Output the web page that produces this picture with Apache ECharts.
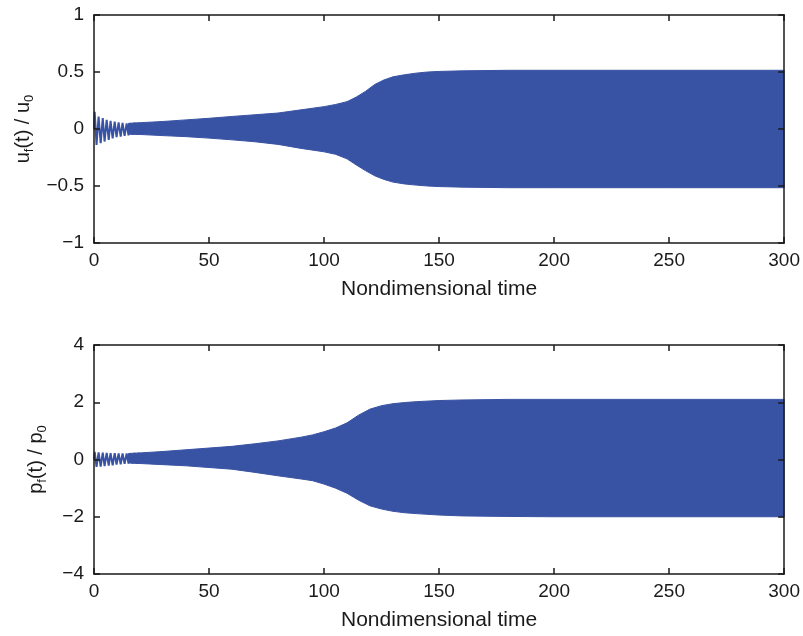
<!DOCTYPE html>
<html><head><meta charset="utf-8">
<script src="https://cdn.jsdelivr.net/npm/echarts@6/dist/echarts.min.js"></script>
<style>html,body{margin:0;padding:0;background:#fff}#c{width:803px;height:636px}</style>
</head><body><div id="c"></div>
<script>
// ---- data ----
const xTicks = [0, 50, 100, 150, 200, 250, 300];
const uTicks = [-1, -0.5, 0, 0.5, 1];
const pTicks = [-4, -2, 0, 2, 4];

// early, individually visible oscillation peaks (top panel)
const uEarlyT = [0, 0.3, 1.1, 2.0, 2.9, 3.8, 4.6, 5.5, 6.4, 7.2, 8.1, 9.0, 9.8, 10.7, 11.6, 12.4, 13.3, 14.2, 15.0, 15.9, 16.8, 17.6, 18.5, 19.4];
const uEarlyV = [0, 0.15, -0.14, 0.11, -0.125, 0.096, -0.11, 0.08, -0.095, 0.072, -0.082, 0.064, -0.072, 0.058, -0.066, 0.054, -0.06, 0.05, -0.055, 0.05, -0.05, 0.055, -0.05, 0.055];
// envelope of the dense oscillation (top panel)
const uEnvT   = [15, 20, 30, 40, 50, 60, 70, 80, 90, 100, 105, 110, 114, 118, 122, 126, 130, 135, 140, 145, 150, 160, 180, 200, 250, 300];
const uUpper  = [0.05, 0.055, 0.066, 0.08, 0.094, 0.11, 0.125, 0.14, 0.168, 0.196, 0.215, 0.24, 0.28, 0.33, 0.39, 0.43, 0.458, 0.476, 0.49, 0.5, 0.505, 0.51, 0.515, 0.515, 0.515, 0.515];
const uLower  = [-0.045, -0.048, -0.058, -0.067, -0.08, -0.095, -0.112, -0.135, -0.17, -0.2, -0.222, -0.262, -0.315, -0.365, -0.41, -0.442, -0.466, -0.482, -0.492, -0.5, -0.505, -0.51, -0.515, -0.515, -0.515, -0.515];

// early oscillation peaks (bottom panel)
const pEarlyT = [0, 0.3, 1.1, 2.0, 2.9, 3.8, 4.6, 5.5, 6.4, 7.2, 8.1, 9.0, 9.8, 10.7, 11.6, 12.4, 13.3, 14.2, 15.0, 15.9, 16.8, 17.6, 18.5, 19.4];
const pEarlyV = [0, 0.27, -0.26, 0.25, -0.25, 0.24, -0.23, 0.23, -0.21, 0.22, -0.2, 0.22, -0.18, 0.21, -0.17, 0.21, -0.15, 0.21, -0.14, 0.22, -0.14, 0.23, -0.15, 0.24];
// envelope (bottom panel)
const pEnvT   = [15, 20, 30, 40, 50, 60, 70, 80, 90, 95, 100, 105, 110, 115, 120, 125, 130, 135, 140, 150, 160, 180, 200, 250, 300];
const pUpper  = [0.21, 0.23, 0.28, 0.34, 0.4, 0.46, 0.55, 0.65, 0.78, 0.86, 0.97, 1.1, 1.28, 1.55, 1.76, 1.88, 1.95, 1.99, 2.02, 2.06, 2.08, 2.1, 2.1, 2.1, 2.1];
const pLower  = [-0.12, -0.14, -0.18, -0.22, -0.28, -0.34, -0.45, -0.57, -0.68, -0.74, -0.86, -1.0, -1.18, -1.42, -1.62, -1.73, -1.81, -1.86, -1.89, -1.94, -1.97, -1.99, -2.0, -2.0, -2.0];

// ---- chart ----
const BLUE = '#3953a4';
const INK = '#1a1a1a';
const FONT = 'Liberation Sans, Arial, sans-serif';
const pairs = (t, v) => t.map((x, i) => [x, v[i]]);

function xAx(gi, pos) {
  const main = pos === 'bottom';
  return {
    gridIndex: gi, type: 'value', position: pos, z: 10,
    min: xTicks[0], max: xTicks[xTicks.length - 1], interval: 50,
    name: main ? 'Nondimensional time' : '', nameLocation: 'middle', nameGap: 36,
    nameTextStyle: { fontSize: 21, color: INK, fontFamily: FONT },
    axisLine: { show: true, onZero: false, lineStyle: { color: INK, width: 1.5 } },
    axisTick: { show: true, inside: true, length: 6, lineStyle: { color: INK, width: 1.5 } },
    axisLabel: { show: main, fontSize: 19, color: INK, fontFamily: FONT, margin: 8 },
    splitLine: { show: false }
  };
}
function yAx(gi, pos, ticks, name) {
  const main = pos === 'left';
  return {
    gridIndex: gi, type: 'value', position: pos, z: 10,
    min: ticks[0], max: ticks[ticks.length - 1], interval: ticks[1] - ticks[0],
    name: main ? name : '', nameLocation: 'middle', nameGap: 45, nameRotate: 90,
    nameTextStyle: { fontSize: 20, color: INK, fontFamily: FONT,
      rich: { s: { fontSize: 13, color: INK, fontFamily: FONT, verticalAlign: 'bottom', padding: [12, 0, 0, 0] } } },
    axisLine: { show: true, onZero: false, lineStyle: { color: INK, width: 1.5 } },
    axisTick: { show: true, inside: true, length: 6, lineStyle: { color: INK, width: 1.5 } },
    axisLabel: { show: main, fontSize: 19, color: INK, fontFamily: FONT, margin: 10,
      formatter: v => (v < 0 ? '\u2212' + Math.abs(v) : String(v)) },
    splitLine: { show: false }
  };
}
// band between lower and upper envelope: one polygon, positioned via the axis scales (api.coord)
function band(xi, t, lo, hi) {
  return {
    type: 'custom', coordinateSystem: 'cartesian2d', xAxisIndex: xi, yAxisIndex: xi, silent: true, z: 2,
    clip: true,
    data: t.map((x, i) => [x, lo[i], hi[i]]),
    encode: { x: 0, y: [1, 2] },
    renderItem: (params, api) => {
      if (params.dataIndex !== 0) return null;
      const top = t.map((x, i) => api.coord([x, hi[i]]));
      const bot = t.map((x, i) => api.coord([x, lo[i]])).reverse();
      return { type: 'polygon', shape: { points: top.concat(bot) },
        style: { fill: BLUE, stroke: BLUE, lineWidth: 1 } };
    }
  };
}
function wiggle(xi, data) {
  return { type: 'line', xAxisIndex: xi, yAxisIndex: xi, data, symbol: 'none', silent: true,
    lineStyle: { color: BLUE, width: 2 }, z: 3 };
}

const chart = echarts.init(document.getElementById('c'), null, { renderer: 'canvas' });
chart.setOption({
  animation: false,
  backgroundColor: '#fff',
  grid: [
    { left: 94, top: 15, width: 691, height: 228 },
    { left: 94, top: 345, width: 691, height: 229 }
  ],
  xAxis: [xAx(0, 'bottom'), xAx(1, 'bottom'), xAx(0, 'top'), xAx(1, 'top')],
  yAxis: [
    yAx(0, 'left', uTicks, 'u{s|f}(t) / u{s|0}'),
    yAx(1, 'left', pTicks, 'p{s|f}(t) / p{s|0}'),
    yAx(0, 'right', uTicks, ''),
    yAx(1, 'right', pTicks, '')
  ],
  series: [
    band(0, uEnvT, uLower, uUpper),
    wiggle(0, pairs(uEarlyT, uEarlyV)),
    band(1, pEnvT, pLower, pUpper),
    wiggle(1, pairs(pEarlyT, pEarlyV))
  ]
});
</script></body></html>
